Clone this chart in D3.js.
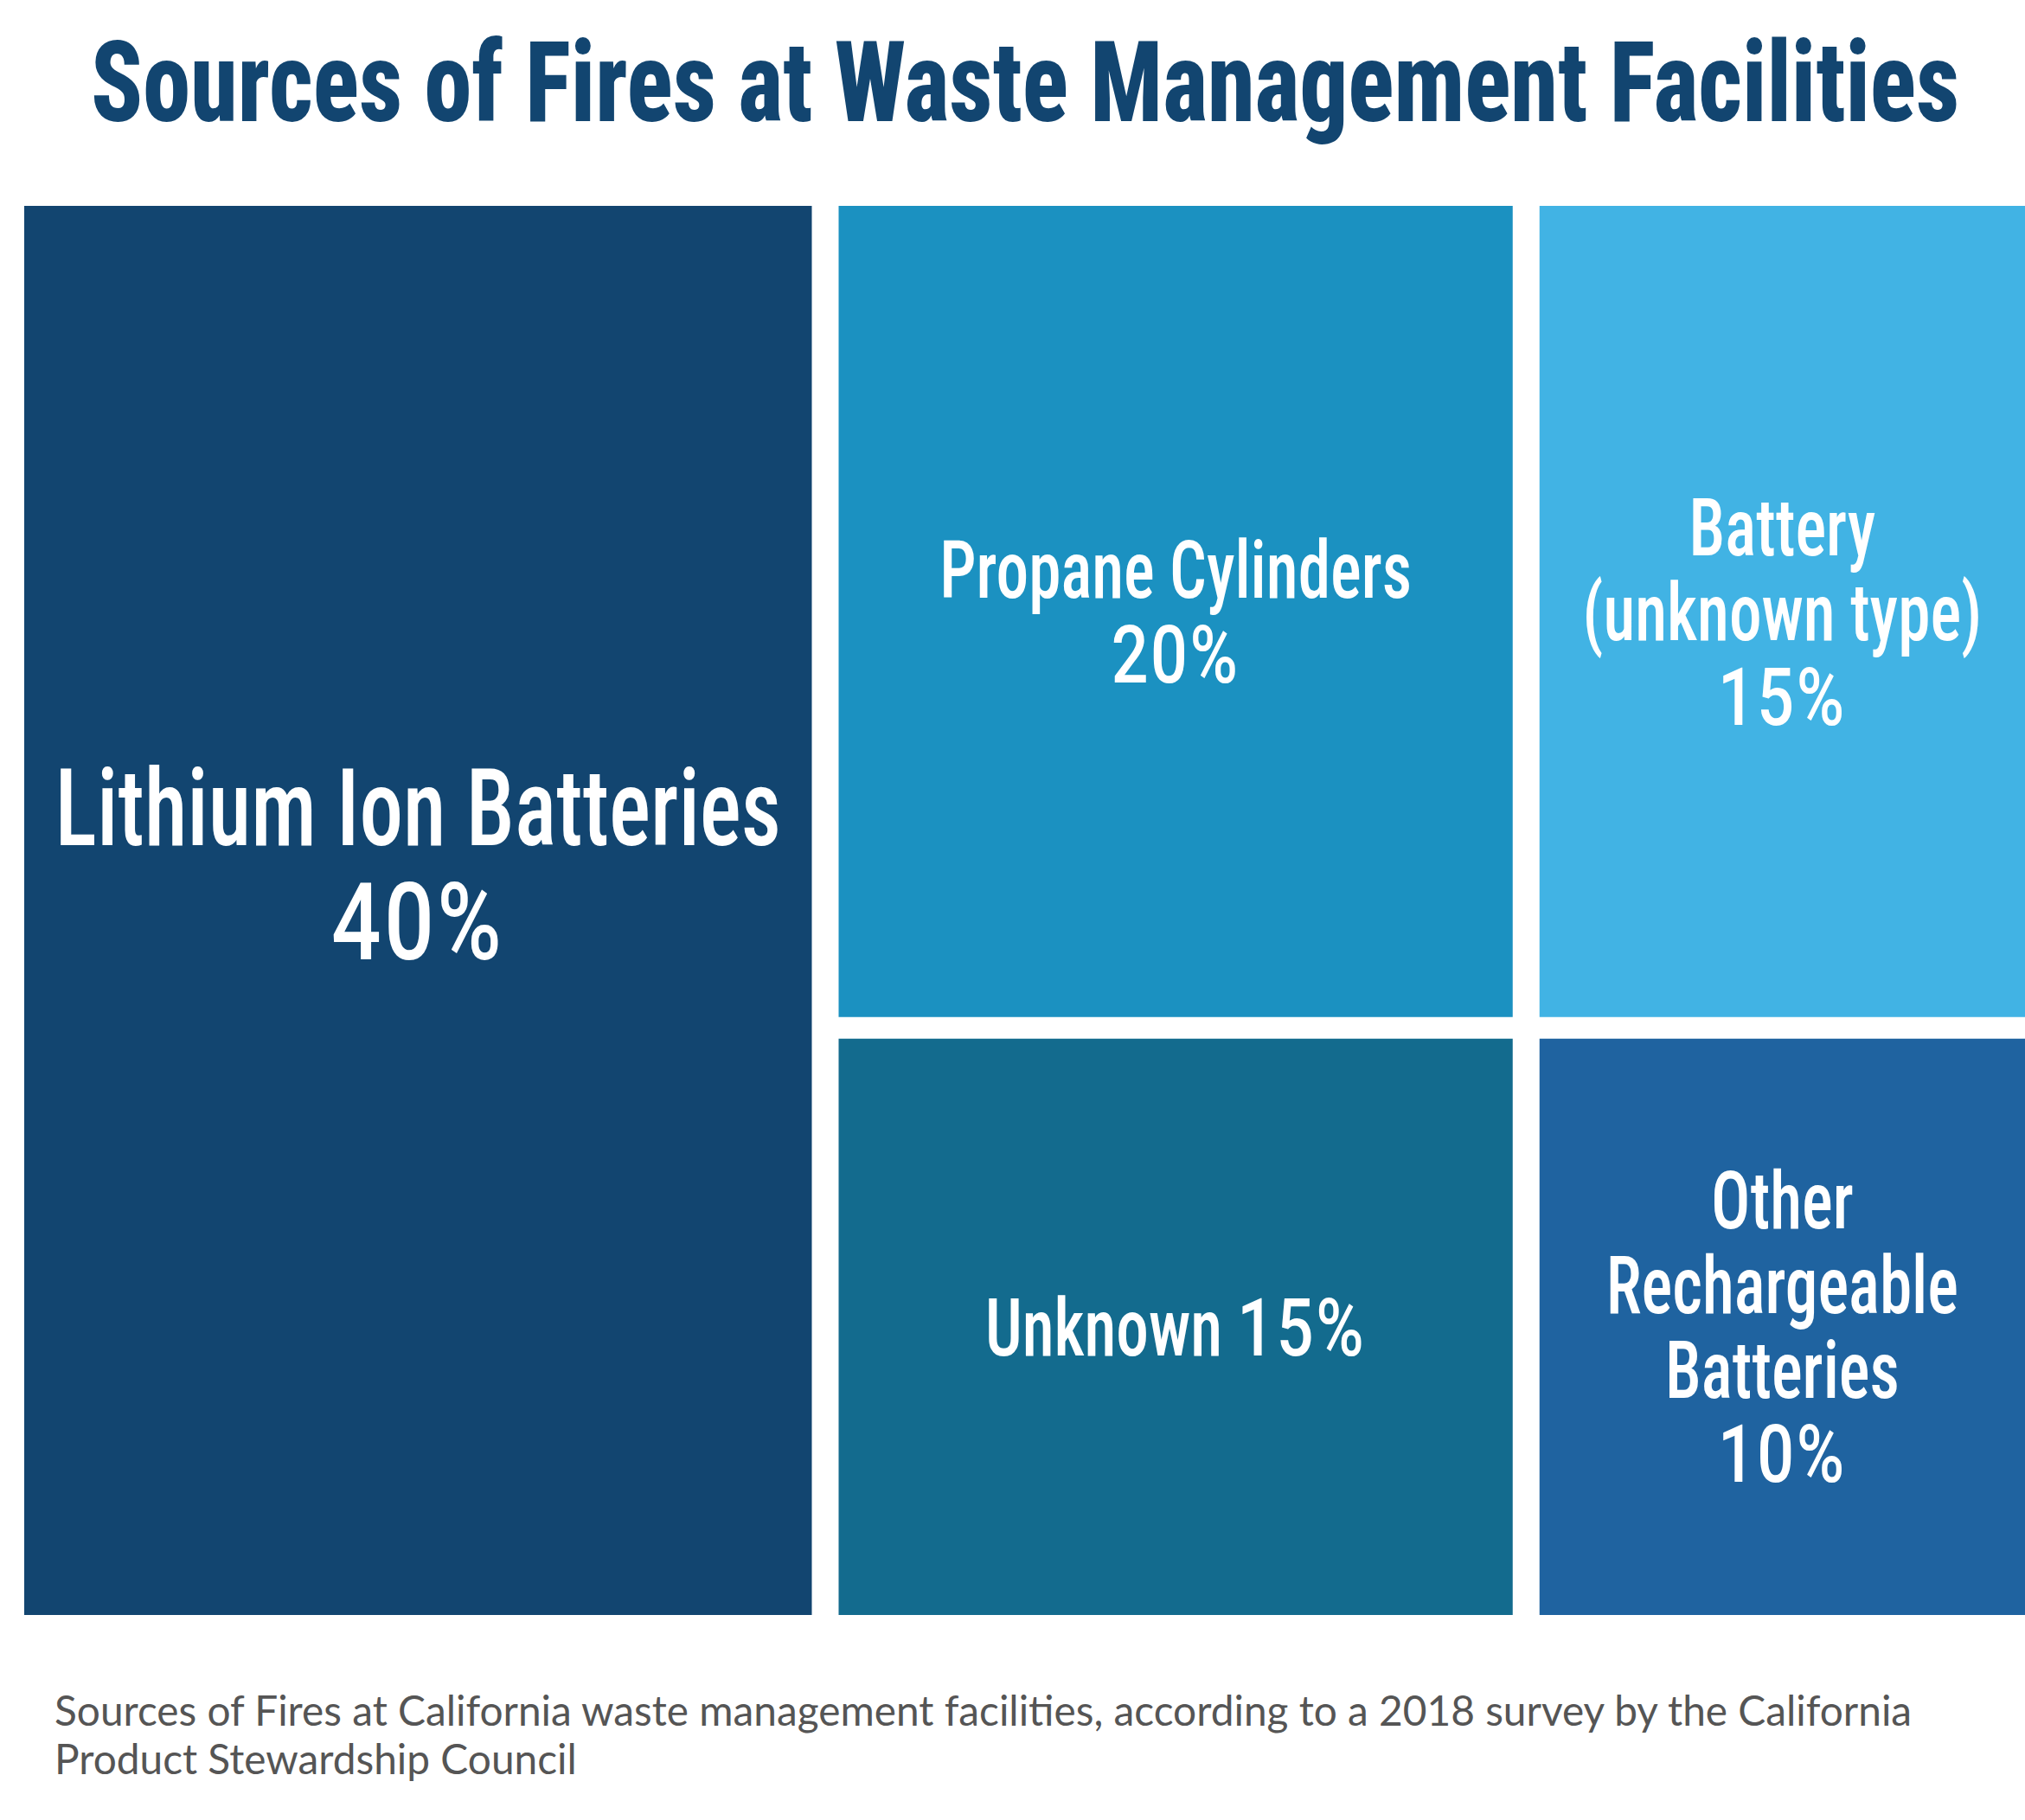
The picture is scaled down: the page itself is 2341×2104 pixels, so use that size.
<!DOCTYPE html>
<html><head><meta charset="utf-8">
<script src="https://cdn.jsdelivr.net/npm/d3@7"></script>
<style>
html,body{margin:0;padding:0;background:#fff;}
svg{display:block;}
</style></head>
<body>
<script>
// ---------------- data ----------------
const titleText = "Sources of Fires at Waste Management Facilities";
const categories = ["Lithium Ion Batteries", "Propane Cylinders", "Battery (unknown type)", "Unknown", "Other Rechargeable Batteries"];
const values = [40, 20, 15, 15, 10];
const columnIndex = [0, 1, 2, 1, 2];   // column of the grid treemap
const rowIndex = [-1, 0, 0, 1, 1];     // -1 = spans all rows
const labelTemplates = ["Lithium Ion Batteries\n{v}%", "Propane Cylinders\n{v}%", "Battery\n(unknown type)\n{v}%", "Unknown {v}%", "Other\nRechargeable\nBatteries\n{v}%"];
const footnoteLines = ["Sources of Fires at California waste management facilities, according to a 2018 survey by the California", "Product Stewardship Council"];

// ---------------- styles ----------------
const colors = ["#124570", "#1b91c1", "#41b3e4", "#136b8e", "#1f63a0"];
const W = 2341, H = 2104;
const frame = {left: 28, right: 2343, top: 238, bottom: 1867};
const gapX = 31, gapY = 25;
const labelFont = "Roboto, 'Open Sans', sans-serif";
const capRatio = 0.711;
const labelCondense = 0.81;

const svg = d3.select("body").append("svg").attr("width", W).attr("height", H);

// ---------------- layout through scales ----------------
const nCols = d3.max(columnIndex) + 1;
const colTotals = d3.range(nCols).map(c => d3.sum(values.filter((v, i) => columnIndex[i] === c)));
const colStart = [0, ...d3.cumsum(colTotals)];
const nRows = d3.max(rowIndex) + 1;
const rowTotals = d3.range(nRows).map(r => d3.sum(values.filter((v, i) => rowIndex[i] === r)));
const rowStart = [0, ...d3.cumsum(rowTotals)];

const x = d3.scaleLinear().domain([0, d3.sum(colTotals)]).range([frame.left, frame.right]);
const y = d3.scaleLinear().domain([0, d3.sum(rowTotals)]).range([frame.top, frame.bottom]);

const cells = categories.map((name, i) => {
  const c = columnIndex[i], r = rowIndex[i];
  let x0 = x(colStart[c]), x1 = x(colStart[c + 1]);
  let y0 = r < 0 ? y.range()[0] : y(rowStart[r]);
  let y1 = r < 0 ? y.range()[1] : y(rowStart[r + 1]);
  if (x0 > frame.left) x0 += gapX / 2;
  if (x1 < frame.right) x1 -= gapX / 2;
  if (y0 > frame.top) y0 += gapY / 2;
  if (y1 < frame.bottom) y1 -= gapY / 2;
  return {name, value: values[i], color: colors[i], x0, x1, y0, y1,
          lines: labelTemplates[i].replace("{v}", values[i]).split("\n")};
});

svg.append("g").selectAll("rect").data(cells).join("rect")
  .attr("x", d => d.x0).attr("y", d => d.y0)
  .attr("width", d => d.x1 - d.x0).attr("height", d => d.y1 - d.y0)
  .attr("fill", d => d.color);

// ---------------- labels ----------------
const maxVal = d3.max(values);
const labelSize = d => d.value === maxVal ? 125 : 93;
const labelNudge = d => d.value === maxVal ? -54 : 0;
const lg = svg.append("g").attr("fill", "#fff").attr("font-family", labelFont).attr("font-weight", 500);
cells.forEach(d => {
  const fs = labelSize(d), lh = fs * 1.05;
  const cx = (d.x0 + Math.min(d.x1, W)) / 2, cy = (d.y0 + d.y1) / 2 + labelNudge(d);
  const t = lg.append("text")
    .attr("transform", `translate(${cx},${cy}) scale(${labelCondense},1)`)
    .attr("text-anchor", "middle").attr("font-size", fs);
  d.lines.forEach((line, j) => {
    const by = (j - (d.lines.length - 1) / 2) * lh + fs * capRatio / 2;
    const ln = t.append("tspan").attr("x", 0).attr("y", by);
    line.split(/(\d+%)/).filter(s => s.length).forEach(part => {
      const isPct = /^\d+%$/.test(part);
      ln.append("tspan")
        .style("font-stretch", isPct ? "100%" : "75%")
        .attr("letter-spacing", isPct ? "0.035em" : null)
        .text(part);
    });
  });
});

// ---------------- title ----------------
const titleLeft = 105, titleWidth = 2160;
const title = svg.append("text")
  .attr("font-family", labelFont).attr("font-weight", 800).style("font-stretch", "75%")
  .attr("font-size", 92 / capRatio).attr("fill", "#124570").text(titleText);
const titleNat = title.node().getComputedTextLength();
title.attr("transform", `translate(${titleLeft},140) scale(${titleWidth / titleNat},1)`);

// ---------------- footnote ----------------
svg.append("g").selectAll("text").data(footnoteLines).join("text")
  .attr("x", 63).attr("y", (d, i) => 1995 + i * 56)
  .attr("font-family", "Lato").attr("font-size", 47.8).attr("fill", "#555")
  .text(d => d);
</script>
</body></html>
